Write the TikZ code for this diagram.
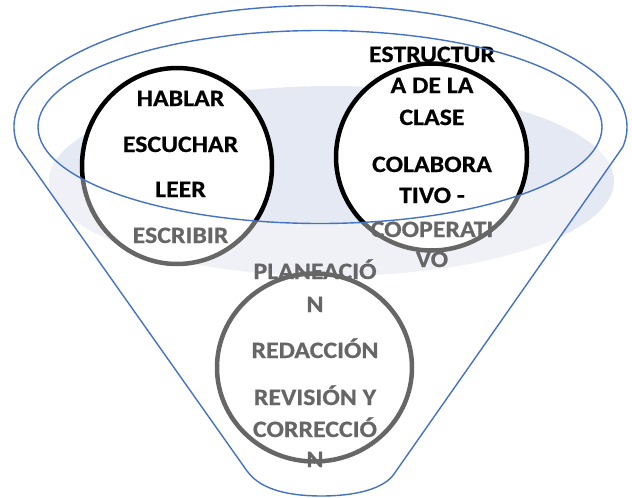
\documentclass[tikz,border=0pt]{standalone}
\usepackage{fontspec}
\newfontfamily\lbfont[FakeStretch=1.10, BoldFeatures={FakeBold=0.6}]{Carlito}
\usetikzlibrary{shapes.geometric}
\definecolor{funnelblue}{RGB}{68,114,196}
\definecolor{liquidcol}{RGB}{229,233,243}
\tikzset{
  ring/.style={draw=black, fill=white, line width=4.5pt, ellipse, inner sep=0pt},
  lbl/.style={font=\lbfont\bfseries\fontsize{23.5}{28}\selectfont, anchor=base, inner sep=0pt, text=black},
  rim/.style={draw=funnelblue, line width=1.4pt},
}
\begin{document}
\begin{tikzpicture}[x=1pt,y=-1pt]
\useasboundingbox (0,0) rectangle (632,498);
% liquid ellipse
\fill[liquidcol] (331.5,181) ellipse [x radius=282.5, y radius=95];
% circles
\node[ring, minimum width=190pt, minimum height=196pt] (cl) at (177,166) {};
\node[ring, minimum width=191pt, minimum height=187pt] (cr) at (431.5,157) {};
\node[ring, minimum width=195pt, minimum height=188pt] (cb) at (314.5,367.5) {};
% left circle text
\node[lbl] (t1) at (180.5,106) {HABLAR};
\node[lbl] (t2) at (180.5,152) {ESCUCHAR};
\node[lbl] (t3) at (180.5,197) {LEER};
\node[lbl] (t4) at (180.5,243) {ESCRIBIR};
% right circle text
\node[lbl] (r1) at (432,62) {ESTRUCTUR};
\node[lbl] (r2) at (432,93) {A DE LA};
\node[lbl] (r3) at (432,125) {CLASE};
\node[lbl] (r4) at (432,172) {COLABORA};
\node[lbl] (r5) at (432,203) {TIVO -};
\node[lbl] (r6) at (432,237) {COOPERATI};
\node[lbl] (r7) at (432,267) {VO};
% bottom circle text
\node[lbl] (b1) at (315,279) {PLANEACIÓ};
\node[lbl] (b2) at (315,312) {N};
\node[lbl] (b3) at (315,358) {REDACCIÓN};
\node[lbl] (b4) at (315,405) {REVISIÓN Y};
\node[lbl] (b5) at (315,437) {CORRECCIÓ};
\node[lbl] (b6) at (315,467) {N};
% translucent front of the funnel
\fill[white, opacity=0.4] (38,127) arc[start angle=180, end angle=0, x radius=282, y radius=96.5]
  -- (623.7,147) -- (394,474)
  .. controls (383,490) and (352,496) .. (322,496)
  .. controls (295,496) and (262,492) .. (247,471)
  -- (18.2,147) -- cycle;
% funnel outline
\draw[rim] (18.2,147) arc[start angle=170.53, end angle=369.47, x radius=306.5, y radius=121.5]
  -- (394,474)
  .. controls (383,490) and (352,496) .. (322,496)
  .. controls (295,496) and (262,492) .. (247,471)
  -- cycle;
% inner rim
\draw[rim] (320,127) ellipse [x radius=282, y radius=96.5];
\end{tikzpicture}
\end{document}
